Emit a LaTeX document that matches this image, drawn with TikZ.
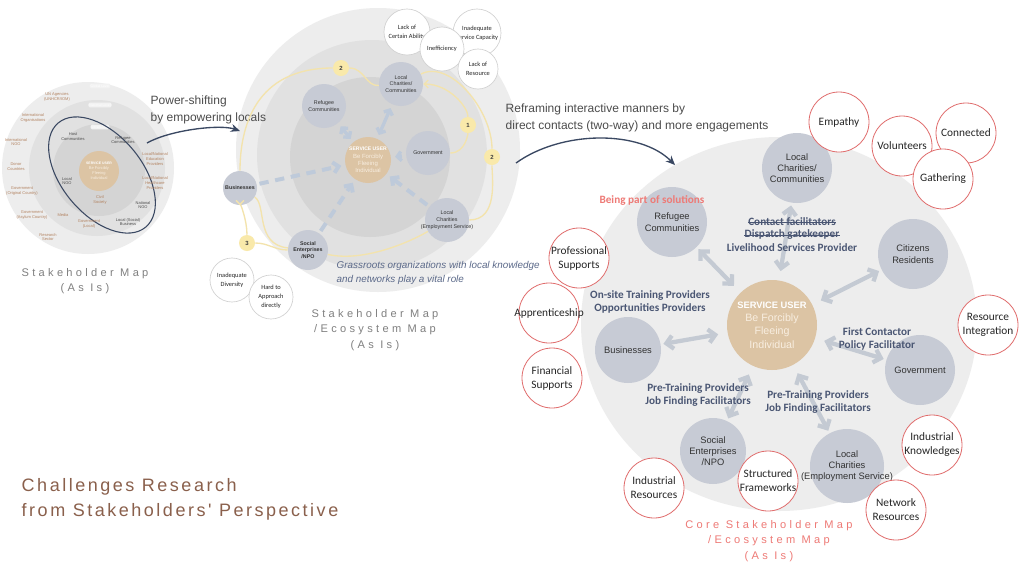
\documentclass[tikz,border=0pt]{standalone}
\usepackage{fontspec}
\setmainfont{Liberation Sans}
\newfontfamily\calib{Carlito}
\newfontfamily\capfont[LetterSpace=30]{Liberation Sans}
\newfontfamily\titlefont[LetterSpace=14]{Liberation Sans}
\usetikzlibrary{arrows.meta,calc}

\newcommand\setsz[2]{\fontsize{#1}{#2}\selectfont}

\definecolor{ringout}{RGB}{237,237,237}
\definecolor{ringmid}{RGB}{225,225,225}
\definecolor{ringin}{RGB}{212,212,212}
\definecolor{actorgray}{RGB}{199,203,213}
\definecolor{usertan}{RGB}{220,196,164}
\definecolor{usertext}{RGB}{248,238,224}
\definecolor{tanlabel}{RGB}{178,130,96}
\definecolor{navy}{RGB}{58,72,98}
\definecolor{slate}{RGB}{74,86,115}
\definecolor{badgeyellow}{RGB}{249,233,170}
\definecolor{trailyellow}{RGB}{243,227,172}
\definecolor{rose}{RGB}{224,108,108}
\definecolor{salmon}{RGB}{238,122,118}
\definecolor{arrowgray}{RGB}{196,202,211}
\definecolor{dashblue}{RGB}{190,202,218}
\definecolor{brownish}{RGB}{138,96,76}
\definecolor{grassblue}{RGB}{92,106,138}

\tikzset{
  actor/.style={circle, fill=actorgray, inner sep=-8pt, minimum size=#1*1.5pt, align=center, text=black!80},
  user/.style={circle, fill=usertan, inner sep=-8pt, minimum size=#1*1.5pt, align=center, text=usertext},
  issue/.style={circle, draw=black!18, line width=0.5pt, fill=white, inner sep=-8pt, minimum size=#1*1.5pt, align=center, text=black!85, font=\calib\setsz{4.8}{6.8}},
  asset/.style={circle, draw=rose, line width=0.6pt, fill=white, inner sep=-8pt, minimum size=#1*1.5pt, align=center, text=black!85, font=\calib\setsz{8.5}{10.5}},
  badge/.style={circle, fill=badgeyellow, inner sep=0pt, minimum size=12pt, text=black!75, font=\bfseries\setsz{4.5}{5}},
  tinylabel/.style={text=tanlabel, align=center, inner sep=0.5pt, font=\setsz{3}{3.6}},
  role/.style={text=slate, align=center, inner sep=0pt, font=\calib\bfseries\setsz{8.4}{10}},
  maptitle/.style={text=black!50, align=center, font=\capfont\setsz{8.3}{11.5}},
  remark/.style={text=black!70, align=left, anchor=west, font=\setsz{9}{12.5}},
  trail/.style={trailyellow, line width=1pt},
  flowtip/.style={-{Straight Barb[length=3pt,width=6pt]}},
  dashflow/.style={dashblue, line width=3pt, dash pattern=on 7pt off 5pt, -{Straight Barb[length=4pt,width=8pt]}, shorten <=2pt, shorten >=3pt},
  linkflow/.style={dashblue, line width=2.5pt, {Straight Barb[length=3pt,width=7pt]}-{Straight Barb[length=3pt,width=7pt]}, shorten <=3pt, shorten >=3pt},
  oneflow/.style={dashblue, line width=2.5pt, -{Straight Barb[length=3pt,width=7pt]}, shorten <=3pt, shorten >=3pt},
  twoway/.style={arrowgray, line width=3.2pt, {Straight Barb[length=5pt,width=10pt]}-{Straight Barb[length=5pt,width=10pt]}, shorten <=2pt, shorten >=7pt},
  powerarrow/.style={navy, line width=1pt, -{Stealth[length=7pt,width=6pt]}},
}

\begin{document}
\begin{tikzpicture}[x=0.75pt,y=0.75pt,yscale=-1]
\useasboundingbox (0,0) rectangle (1024,576);
\fill[white] (0,0) rectangle (1024,576);

%Left map: rings
\fill[ringout] (88,168) circle (86);
\fill[ringmid] (97,168) circle (68);
\fill[ringin] (99,170) circle (46);
\foreach \y/\lbl in {86/Global Level,105/National Level,127/Local Level}
  \node[fill=black!5, rounded corners=1pt, inner sep=0.8pt, text=white, font=\setsz{2.5}{3}] (lvl\y) at (100,\y) {\lbl};
\node[user=20, font=\setsz{3}{3.7}] (hub) at (99,171) {{\color{white}\bfseries\setsz{2.6}{3.7}SERVICE USER}\\Be Forcibly\\Fleeing\\Individual};
\draw[navy, line width=0.8pt, rotate around={50:(102,175)}] (102,175) ellipse [x radius=68, y radius=40];

% Text Node
\node[tinylabel] (unag) at (57,97) {UN Agencies\\(UNHCR/IOM)};
\node[tinylabel] (intorg) at (33,118) {International\\Organisations};
\node[tinylabel] (intngo) at (16,142) {International\\NGO};
\node[tinylabel] (donor) at (16,167) {Donor\\Countries};
\node[tinylabel] (govorig) at (22,191) {Government\\(Original Country)};
\node[tinylabel] (govasyl) at (32,215) {Government\\(Asylum Country)};
\node[tinylabel] (research) at (48,237) {Research\\Sector};
\node[tinylabel] (media) at (63,215) {Media};
\node[tinylabel, text=black!70] (host) at (73,137) {Host\\Communities};
\node[tinylabel, text=black!70] (refl) at (123,140) {Refugee\\Communities};
\node[tinylabel, text=black!70] (lngo) at (67,181) {Local\\NGO};
\node[tinylabel] (civil) at (100,200) {Civil\\Society};
\node[tinylabel, text=black!70] (nngo) at (143,205) {National\\NGO};
\node[tinylabel, text=black!70] (lsb) at (128,222) {Local (Social)\\Business};
\node[tinylabel] (govloc) at (89,224) {Government\\(Local)};
\node[tinylabel] (edu) at (155,159) {Local/National\\Education\\Providers};
\node[tinylabel] (health) at (155,183) {Local/National\\Healthcare\\Providers};
\node[maptitle] (cap1) at (85,281) {Stakeholder Map\\(As Is)};

%Middle map: rings
\fill[ringout] (378,150) circle (142);
\fill[ringmid] (372,155) circle (115);
\fill[ringin] (370,157) circle (80);

%Curve Lines: power-shifting
\node[remark] (powtxt) at (146,110) {Power-shifting\\by empowering locals};
\coordinate (pw0) at (147,143);
\coordinate (pw1) at (240,131);
\draw[powerarrow] (pw0) .. controls (170,130) and (220,124) .. (pw1);

\node[actor=22, font=\setsz{4}{5}] (lc) at (401,84) {Local\\Charities/\\Communities};
\node[actor=22, font=\setsz{4}{5}] (rc) at (324,106) {Refugee\\Communities};
\node[user=23, font=\setsz{4.5}{5.5}] (core) at (368,160) {{\color{white}\bfseries\setsz{3.8}{5.5}SERVICE USER}\\Be Forcibly\\Fleeing\\Individual};
\node[actor=22, font=\setsz{4}{5}] (gov) at (428,153) {Government};
\node[actor=17, font=\bfseries\setsz{4}{5}] (bus) at (240,188) {Businesses};
\node[actor=20, font=\bfseries\setsz{4}{5}] (se) at (308,250) {Social\\Enterprises\\/NPO};
\node[actor=22, font=\setsz{4}{5}] (lce) at (447,220) {Local\\Charities\\(Employment Service)};

\node[badge] (b1) at (468,125) {1};
\node[badge] (b2a) at (341,68) {2};
\node[badge] (b2b) at (492,157) {2};
\node[badge] (b3) at (247,243) {3};

%Curve Lines: yellow trails
\draw[trail] (gov) to[out=0,in=90] (b1);
\draw[trail, flowtip] (b1) to[out=-90,in=0] (lc);
\draw[trail] (lc) to[out=200,in=0] (b2a);
\draw[trail] (b2a) to[out=180,in=-90,looseness=1.2] (bus);
\draw[trail] (lc) to[out=-50,in=-90,looseness=1.4] (b2b);
\draw[trail] (b2b) to[out=90,in=0] (lce);
\draw[trail] (lce) to[out=120,in=30] (se);
\draw[trail] (se) to[out=180,in=0] (b3);
\draw[trail, flowtip] (b3) to[out=-90,in=90] (bus);
\draw[trail] (se) to[out=200,in=60] (bus);

%Straight Lines: flows to the user
\draw[dashflow] (bus) -- (core);
\draw[dashflow] (se) -- (core);
\draw[dashflow] (lce) -- (core);
\draw[linkflow] (rc) -- (core);
\draw[linkflow] (lc) -- (core);
\draw[oneflow] (gov) -- (core);

\node[issue=23] (ability) at (407,32) {Lack of\\Certain Ability};
\node[issue=24] (capacity) at (477,33) {Inadequate\\Service Capacity};
\node[issue=22] (ineff) at (442,49) {Inefficiency};
\node[issue=20] (resource) at (478,69) {Lack of\\Resource};
\node[issue=22] (diversity) at (232,280) {Inadequate\\Diversity};
\node[issue=22] (approach) at (271,297) {Hard to\\Approach\\directly};

% Text Node
\node[anchor=west, align=left, text=grassblue, font=\itshape\setsz{7.4}{11}] (grass) at (332,273) {Grassroots organizations with local knowledge\\and networks play a vital role};
\node[maptitle] (cap2) at (375,330) {Stakeholder Map\\/Ecosystem Map\\(As Is)};

%Curve Lines: reframing
\node[remark] (reftxt) at (501,118) {Reframing interactive manners by\\direct contacts (two-way) and more engagements};
\coordinate (rf0) at (516,163);
\coordinate (rf1) at (675,165);
\draw[powerarrow] (rf0) .. controls (562,130) and (640,130) .. (rf1);

%Right map
\fill[ringout] (779,324) ellipse [x radius=198, y radius=187];

\node[actor=35, font=\setsz{7}{8.5}] (lc2) at (797,168) {Local\\Charities/\\Communities};
\node[actor=35, font=\setsz{7}{8.5}] (rc2) at (672,222) {Refugee\\Communities};
\node[actor=35, font=\setsz{7}{8.5}] (cit) at (913,254) {Citizens\\Residents};
\node[actor=33, font=\setsz{7}{8.5}] (bus2) at (628,350) {Businesses};
\node[user=45, font=\setsz{8}{10}] (core2) at (772,325) {{\color{white}\bfseries\setsz{7}{10}SERVICE USER}\\Be Forcibly\\Fleeing\\Individual};
\node[actor=35, font=\setsz{7}{8.5}] (gov2) at (920,370) {Government};
\node[actor=33, font=\setsz{7}{8.5}] (se2) at (713,451) {Social\\Enterprises\\/NPO};
\node[actor=37, font=\setsz{7}{8.5}] (lce2) at (847,466) {Local\\Charities\\(Employment Service)};

\foreach \n in {rc2,lc2,cit,bus2,gov2,se2,lce2}
  \draw[twoway] (\n) -- (core2);

% Text Node
\node[role, text=salmon] (solution) at (652,201) {Being part of solutions};
\node[role] (contact) at (792,222) {Contact facilitators};
\node[role] (gatekeep) at (792,235) {Dispatch gatekeeper};
\draw[slate, line width=0.6pt] ($(contact.base west)+(0,-3)$) -- ($(contact.base east)+(0,-3)$);
\draw[slate, line width=0.6pt] ($(gatekeep.base west)+(0,-3)$) -- ($(gatekeep.base east)+(0,-3)$);
\node[role] (livelihood) at (792,248) {Livelihood Services Provider};
\node[role] (onsite) at (650,302) {On-site Training Providers\\Opportunities Providers};
\node[role] (firstc) at (877,339) {First Contactor\\Policy Facilitator};
\node[role] (pretrain1) at (698,395) {Pre-Training Providers\\Job Finding Facilitators};
\node[role] (pretrain2) at (818,402) {Pre-Training Providers\\Job Finding Facilitators};

\node[asset=30] (empathy) at (839,122) {Empathy};
\node[asset=30] (volunteer) at (902,146) {Volunteers};
\node[asset=30] (connected) at (966,133) {Connected};
\node[asset=30] (gathering) at (943,179) {Gathering};
\node[asset=30] (profsup) at (579,258) {Professional\\Supports};
\node[asset=30] (apprent) at (549,313) {Apprenticeship};
\node[asset=30] (finsup) at (552,378) {Financial\\Supports};
\node[asset=30] (resint) at (988,325) {Resource\\Integration};
\node[asset=30] (indknow) at (932,445) {Industrial\\Knowledges};
\node[asset=30] (netres) at (896,510) {Network\\Resources};
\node[asset=30] (indres) at (654,488) {Industrial\\Resources};
\node[asset=30] (structfw) at (768,481) {Structured\\Frameworks};

\node[maptitle, text=salmon] (cap3) at (769,541) {Core Stakeholder Map\\/Ecosystem Map\\(As Is)};

% Text Node
\node[anchor=west, align=left, text=brownish, font=\titlefont\setsz{13.5}{18.75}] (title) at (17,499) {Challenges Research\\from Stakeholders' Perspective};

\end{tikzpicture}
\end{document}
